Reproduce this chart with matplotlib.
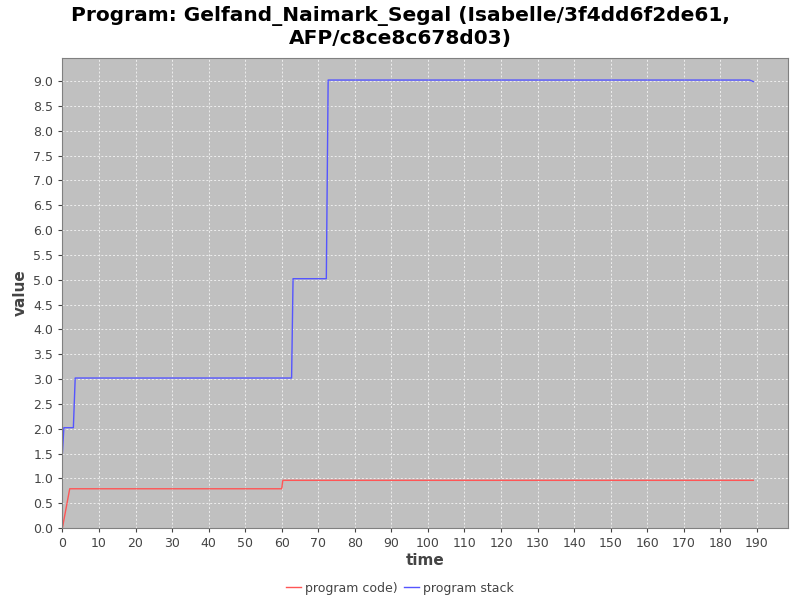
import numpy as np
import matplotlib
matplotlib.use("Agg")
import matplotlib.pyplot as plt
from matplotlib.ticker import MultipleLocator, FormatStrFormatter

# data
code_time = [0, 2, 60, 60.3, 189]
code_value = [0.0, 0.79, 0.79, 0.96, 0.96]

stack_time = [0, 0.4, 3.0, 3.5, 62.7, 63.1, 72.2, 72.7, 188, 189]
stack_value = [1.5, 2.02, 2.02, 3.02, 3.02, 5.02, 5.02, 9.02, 9.02, 8.99]

title = "Program: Gelfand_Naimark_Segal (Isabelle/3f4dd6f2de61,\nAFP/c8ce8c678d03)"

fig = plt.figure(figsize=(8, 6), dpi=100)
ax = fig.add_axes([0.078, 0.12, 0.907, 0.783])
ax.set_facecolor("#c0c0c0")

ax.plot(code_time, code_value, color="#ff5555", lw=1, label="program code)")
ax.plot(stack_time, stack_value, color="#5555ff", lw=1, label="program stack")

ax.set_xlim(0, 198.5)
ax.set_ylim(0, 9.46)
ax.xaxis.set_major_locator(MultipleLocator(10))
ax.yaxis.set_major_locator(MultipleLocator(0.5))
ax.yaxis.set_major_formatter(FormatStrFormatter("%.1f"))
ax.grid(True, color="#eeeeee", ls=(0, (2, 2)), lw=0.7)
ax.set_axisbelow(True)

for s in ax.spines.values():
    s.set_color("#808080")
ax.tick_params(colors="#444444", labelsize=9, length=3)
for lab in ax.get_xticklabels() + ax.get_yticklabels():
    lab.set_color("#444444")

ax.set_xlabel("time", fontsize=11, fontweight="bold", color="#444444", labelpad=2)
ax.set_ylabel("value", fontsize=11, fontweight="bold", color="#444444", labelpad=4)
fig.suptitle(title, fontsize=14.5, fontweight="bold", y=0.99, va="top")

fig.legend(loc="lower center", ncol=2, frameon=False, fontsize=9,
           handlelength=1.2, handletextpad=0.3, columnspacing=0.5,
           bbox_to_anchor=(0.5, -0.01), labelcolor="#444444")

fig.savefig("out.png")
